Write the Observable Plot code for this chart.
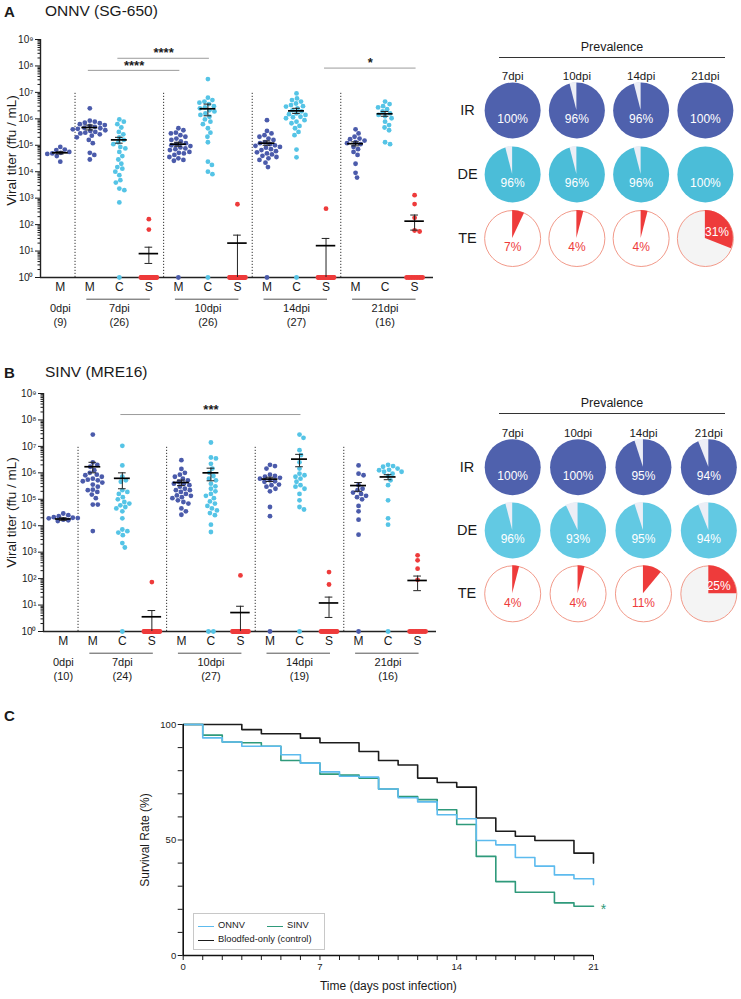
<!DOCTYPE html>
<html><head><meta charset="utf-8">
<script src="https://cdn.jsdelivr.net/npm/d3@7"></script>
<script src="https://cdn.jsdelivr.net/npm/@observablehq/plot@0.6"></script>
<style>
body{margin:0;background:#fff;}
#root{position:relative;width:741px;height:999px;overflow:hidden;font-family:"Liberation Sans",Arial,Helvetica,sans-serif;color:#1a1a1a;}
#root > *{position:absolute;}
.ttl{font-size:15.5px;white-space:nowrap;}
.lbl{font-size:15px;font-weight:bold;}
.prev{width:226px;left:499px;height:19px;line-height:19px;text-align:center;font-size:12.5px;border-bottom:1px solid #333;}
.leg{left:193px;top:913px;width:130px;height:35px;border:1px solid #c8c8c8;background:#fff;font-size:9.3px;}
.leg div{position:absolute;}
.sw{height:0;width:16px;border-top:1.6px solid;}
</style></head><body><div id="root"></div>
<script>
// ---------------- DATA ----------------
const dpiGroups = ["0dpi", "7dpi", "10dpi", "14dpi", "21dpi"];
const tissues = ["M", "C", "S"];
const nA = [9, 26, 26, 27, 16];
const nB = [10, 24, 27, 19, 16];

// Panel A: ONNV (SG-650) viral titers (ffu/mL); 0 = not detected
const A_M0 = [8.7e4, 6.9e4, 6.6e4, 5.6e4, 5.2e4, 4.9e4, 4.7e4, 3.9e4, 2.4e4];
const A_M7 = [2.5e6, 8.5e5, 7.8e5, 7.1e5, 6.8e5, 6.3e5, 5.8e5, 5.4e5, 5.0e5, 4.6e5, 4.4e5, 4.2e5, 4.0e5, 3.7e5, 3.5e5, 3.2e5, 3.0e5, 2.8e5, 2.6e5, 2.3e5, 2.0e5, 1.6e5, 1.2e5, 5.2e4, 4.3e4, 2.9e4];
const A_C7 = [9.5e5, 7.8e5, 6.3e5, 4.7e5, 3.2e5, 2.6e5, 2.0e5, 1.6e5, 1.3e5, 1.1e5, 8.7e4, 7.6e4, 5.6e4, 3.9e4, 2.9e4, 2.0e4, 1.5e4, 1.3e4, 1.0e4, 7.4e3, 4.8e3, 3.9e3, 2.3e3, 2.0e3, 690, 0];
const A_S7 = [160, 65, 0, 0, 0, 0, 0, 0, 0, 0, 0, 0, 0, 0, 0, 0, 0, 0, 0, 0, 0, 0, 0, 0, 0, 0];
const A_M10 = [4.4e5, 3.7e5, 3.0e5, 2.8e5, 2.4e5, 2.1e5, 1.8e5, 1.6e5, 1.4e5, 1.2e5, 1.1e5, 1.0e5, 9.3e4, 8.3e4, 7.6e4, 7.1e4, 6.6e4, 5.6e4, 5.2e4, 4.9e4, 4.3e4, 3.6e4, 3.2e4, 2.8e4, 2.6e4, 0];
const A_C10 = [3.2e7, 6.3e6, 5.1e6, 4.5e6, 4.1e6, 3.6e6, 3.0e6, 2.7e6, 2.5e6, 2.1e6, 1.9e6, 1.6e6, 1.4e6, 1.2e6, 9.5e5, 7.8e5, 6.3e5, 4.4e5, 3.0e5, 2.1e5, 1.3e5, 2.4e4, 1.8e4, 1.0e4, 8.1e3, 0];
const A_S10 = [590, 0, 0, 0, 0, 0, 0, 0, 0, 0, 0, 0, 0, 0, 0, 0, 0, 0, 0, 0, 0, 0, 0, 0, 0, 0];
const A_M14 = [8.9e5, 3.5e5, 2.8e5, 2.4e5, 2.1e5, 1.8e5, 1.6e5, 1.3e5, 1.2e5, 1.1e5, 1.0e5, 9.5e4, 8.7e4, 8.1e4, 7.1e4, 6.6e4, 6.0e4, 5.4e4, 4.9e4, 4.5e4, 4.0e4, 3.6e4, 3.2e4, 2.8e4, 2.2e4, 1.5e4, 0];
const A_C14 = [9.1e6, 5.9e6, 5.1e6, 4.5e6, 3.8e6, 3.3e6, 3.0e6, 2.9e6, 2.5e6, 2.1e6, 1.9e6, 1.6e6, 1.5e6, 1.4e6, 1.2e6, 1.15e6, 1.05e6, 8.9e5, 7.8e5, 6.8e5, 5.4e5, 4.4e5, 3.2e5, 2.4e5, 6.9e4, 3.5e4, 0];
const A_S14 = [400, 0, 0, 0, 0, 0, 0, 0, 0, 0, 0, 0, 0, 0, 0, 0, 0, 0, 0, 0, 0, 0, 0, 0, 0, 0, 0];
const A_M21 = [4.0e5, 2.8e5, 2.1e5, 1.8e5, 1.7e5, 1.5e5, 1.3e5, 1.2e5, 1.1e5, 8.7e4, 7.1e4, 5.6e4, 4.3e4, 2.0e4, 9.1e3, 6.0e3];
const A_C21 = [4.5e6, 3.6e6, 3.0e6, 2.7e6, 2.3e6, 1.9e6, 1.6e6, 1.4e6, 1.25e6, 1.05e6, 7.8e5, 5.8e5, 4.7e5, 3.7e5, 1.3e5, 1.1e5];
const A_S21 = [1300, 600, 180, 60, 55, 0, 0, 0, 0, 0, 0, 0, 0, 0, 0, 0];
// mean and SEM bounds per column (M0, M7, C7, S7, M10, C10, S10, M14, C14, S14, M21, C21, S21)
const A_mean = [5.2e4, 4.7e5, 1.6e5, 8, 1.1e5, 2.4e6, 20, 1.2e5, 2.0e6, 16, 1.15e5, 1.55e6, 135];
const A_semLo = [4.7e4, 3.8e5, 1.2e5, 3.4, 9.2e4, 1.3e6, 1, 1.0e5, 1.6e6, 1, 9.5e4, 1.25e6, 62];
const A_semHi = [5.7e4, 5.8e5, 2.0e5, 14, 1.3e5, 3.6e6, 40, 1.45e5, 2.5e6, 30, 1.35e5, 1.9e6, 230];
const A_sig = [
  {from: "7dpi M", to: "10dpi M", level: 6.8e7, label: "****"},
  {from: "7dpi C", to: "10dpi C", level: 1.95e8, label: "****"},
  {from: "14dpi S", to: "21dpi S", level: 8.3e7, label: "*"}
];

// Panel B: SINV (MRE16)
const B_M0 = [2.9e4, 2.5e4, 2.3e4, 2.1e4, 2.0e4, 1.95e4, 1.9e4, 1.7e4, 1.6e4, 1.5e4];
const B_M7 = [2.8e7, 2.5e6, 2.0e6, 1.7e6, 1.25e6, 1.0e6, 8.5e5, 8.1e5, 7.1e5, 6.0e5, 5.5e5, 5.2e5, 4.8e5, 4.3e5, 3.6e5, 3.0e5, 2.3e5, 2.2e5, 1.9e5, 1.5e5, 1.1e5, 6.3e4, 6.3e4, 6.3e3];
const B_C7 = [1.05e7, 1.9e6, 7.1e5, 5.2e5, 4.6e5, 2.2e5, 1.9e5, 1.6e5, 1.2e5, 1.0e5, 7.9e4, 6.9e4, 5.9e4, 5.1e4, 4.5e4, 3.5e4, 1.9e4, 7.2e3, 6.2e3, 5.5e3, 4.4e3, 2.2e3, 1.5e3, 0];
const B_S7 = [74, 0, 0, 0, 0, 0, 0, 0, 0, 0, 0, 0, 0, 0, 0, 0, 0, 0, 0, 0, 0, 0, 0, 0];
const B_M10 = [3.0e6, 1.4e6, 1.0e6, 8.5e5, 7.1e5, 6.0e5, 5.2e5, 4.6e5, 3.9e5, 3.9e5, 3.4e5, 3.0e5, 2.5e5, 2.2e5, 2.2e5, 1.9e5, 1.6e5, 1.4e5, 1.35e5, 1.2e5, 1.1e5, 9.1e4, 7.9e4, 6.9e4, 4.5e4, 3.5e4, 2.6e4];
const B_C10 = [1.4e7, 3.8e6, 3.5e6, 2.2e6, 1.45e6, 1.0e6, 7.6e5, 6.0e5, 5.2e5, 3.9e5, 3.1e5, 2.5e5, 2.0e5, 1.6e5, 1.35e5, 1.1e5, 8.3e4, 6.9e4, 5.6e4, 4.5e4, 3.8e4, 3.0e4, 2.5e4, 1.1e4, 5.8e3, 0, 0];
const B_S10 = [132, 0, 0, 0, 0, 0, 0, 0, 0, 0, 0, 0, 0, 0, 0, 0, 0, 0, 0, 0, 0, 0, 0, 0, 0, 0, 0];
const B_M14 = [2.0e6, 1.8e6, 1.45e6, 8.5e5, 7.6e5, 7.1e5, 6.5e5, 6.0e5, 5.2e5, 4.8e5, 4.6e5, 3.6e5, 3.4e5, 3.0e5, 2.5e5, 2.0e5, 5.1e4, 2.3e4, 0];
const B_C14 = [2.8e7, 2.1e7, 7.2e6, 4.7e6, 2.5e6, 1.45e6, 9.3e5, 8.1e5, 7.1e5, 6.0e5, 4.6e5, 3.4e5, 3.0e5, 2.5e5, 1.6e5, 9.1e4, 5.1e4, 4.1e4, 0];
const B_S14 = [177, 60, 0, 0, 0, 0, 0, 0, 0, 0, 0, 0, 0, 0, 0, 0, 0, 0, 0];
const B_M21 = [1.9e6, 9.3e5, 8.1e5, 3.4e5, 2.5e5, 2.2e5, 1.8e5, 1.6e5, 1.35e5, 1.2e5, 1.0e5, 5.6e4, 3.5e4, 1.7e4, 4.6e3, 0];
const B_C21 = [2.0e6, 1.8e6, 1.7e6, 1.45e6, 1.3e6, 1.25e6, 1.1e6, 1.1e6, 9.3e5, 7.6e5, 5.2e5, 3.4e5, 9.1e4, 1.9e4, 1.1e4, 0];
const B_S21 = [760, 490, 237, 90, 0, 0, 0, 0, 0, 0, 0, 0, 0, 0, 0, 0];
const B_mean = [1.8e4, 1.7e6, 6.2e5, 3.6, 4.3e5, 1.0e6, 5.2, 5.8e5, 3.3e6, 12, 3.3e5, 7.0e5, 85];
const B_semLo = [1.6e4, 1.0e6, 2.5e5, 1, 3.3e5, 5.0e5, 1, 4.7e5, 1.7e6, 3.4, 2.0e5, 5.5e5, 35];
const B_semHi = [2.0e4, 2.5e6, 1.0e6, 6.2, 5.3e5, 1.5e6, 9, 6.8e5, 5.0e6, 20, 4.3e5, 8.5e5, 125];
const B_sig = [{from: "7dpi C", to: "14dpi C", level: 1.6e8, label: "***"}];

// Prevalence (%)
const prevCols = ["7dpi", "10dpi", "14dpi", "21dpi"];
const prevRows = ["IR", "DE", "TE"];
const prevA_IR = [100, 96, 96, 100];
const prevA_DE = [96, 96, 96, 100];
const prevA_TE = [7, 4, 4, 31];
const prevB_IR = [100, 100, 95, 94];
const prevB_DE = [96, 93, 95, 94];
const prevB_TE = [4, 4, 11, 25];

// Panel C: survival (%)
const days = [0, 1, 2, 3, 4, 5, 6, 7, 8, 9, 10, 11, 12, 13, 14, 15, 16, 17, 18, 19, 20, 21];
const survONNV = [100, 94.2, 92.4, 90.6, 90.6, 86.9, 83.3, 79.5, 77.6, 77.2, 72.1, 68.3, 66.5, 60.9, 59.2, 49.8, 47.9, 42.4, 38.7, 34.9, 33.2, 30.7];
const survSINV = [100, 95.4, 92.4, 92.1, 90.6, 84.4, 83.3, 78.5, 78.1, 76.8, 72.1, 68.8, 67.5, 63.1, 56.7, 42.9, 32.0, 27.4, 27.4, 22.8, 21.3, 21.3];
const survCtrl = [100, 100, 100, 97.8, 96.0, 96.0, 94.1, 92.1, 92.1, 88.3, 84.4, 82.5, 76.8, 74.9, 72.9, 59.5, 53.8, 51.6, 49.8, 49.8, 44.3, 40.0];
const yTicksLog = [1, 1e1, 1e2, 1e3, 1e4, 1e5, 1e6, 1e7, 1e8, 1e9];
const survYTicks = [0, 50, 100];
const survYMinor = [10, 20, 30, 40, 60, 70, 80, 90];

// ---------------- STYLE ----------------
const colM = "#4B5BAB", colC = "#55C4E6", colS = "#EE3B3B";
const colIR = "#4F61AD", colTEstroke = "#F29A8A";
const plotStyle = {fontFamily: "'Liberation Sans', Arial, Helvetica, sans-serif", fontSize: "10px", background: "transparent", color: "#1a1a1a", overflow: "visible"};
const root = document.getElementById("root");
function place(el, left, top) { el.style.left = left + "px"; el.style.top = top + "px"; root.appendChild(el); return el; }
function html(tag, cls, text) { const e = document.createElement(tag); if (cls) e.className = cls; if (text != null) e.textContent = text; return e; }

const sup = n => String(n).split("").map(c => "⁰¹²³⁴⁵⁶⁷⁸⁹"[+c]).join("");
const minorLog = [];
for (let e = 0; e < 9; e++) for (let k = 2; k <= 9; k++) minorLog.push(k * 10 ** e);

// beeswarm offsets (pixel-based), returned in slot units
function swarm(vals, dec, pxPerSlot, R) {
  const D = 2 * R + 0.2;
  const pos = vals.filter(v => v > 0).map(v => ({v, py: (9 - Math.log10(v)) * dec})).sort((a, b) => a.py - b.py);
  const placed = [];
  for (const p of pos) {
    let off = 0;
    for (let s = 0; s < 400; s++) {
      const c = (s % 2 === 1 ? 1 : -1) * Math.ceil(s / 2) * 0.5;
      if (placed.every(q => (q.px - c) ** 2 + (q.py - p.py) ** 2 >= D * D)) { off = c; break; }
    }
    p.px = off; placed.push(p);
  }
  const zeros = vals.filter(v => !(v > 0));
  const w = Math.min(16, (zeros.length - 1) * D);
  zeros.forEach((v, j) => placed.push({v, px: zeros.length > 1 ? -w / 2 + w * j / (zeros.length - 1) : 0}));
  return placed.map(p => ({v: p.v, off: p.px / pxPerSlot}));
}

function scatterPanel({values, mean, lo, hi, n, sig, top, ml, mr, labelDy}) {
  const W = 440, H = 345, MT = 39, MB = 68, R = 2.4;
  const xDom = [-0.67, 12.64];
  const slots = [];
  dpiGroups.forEach((g, gi) => (gi === 0 ? ["M"] : tissues).forEach(t => slots.push({group: g, gi, tissue: t, key: g + " " + t, i: slots.length})));
  const dec = (H - MT - MB) / 9;
  const pxPerSlot = (W - ml - mr) / (xDom[1] - xDom[0]);
  const points = [];
  slots.forEach((s, si) => swarm(values[si], dec, pxPerSlot, R).forEach(p => points.push({v: p.v, x: si + p.off, tissue: s.tissue})));
  const stats = slots.map((s, si) => ({i: si, tissue: s.tissue, mean: mean[si], lo: lo[si], hi: hi[si]}));
  const groupsInfo = dpiGroups.map((g, gi) => {
    const ss = slots.filter(s => s.gi === gi);
    return {g, n: n[gi], first: ss[0].i, last: ss[ss.length - 1].i, mid: ss[Math.floor(ss.length / 2)].i};
  });
  const seps = groupsInfo.slice(1).map(d => d.first - 0.5);
  const idx = k => slots.find(s => s.key === k).i;
  const sigRows = sig.map(d => ({x1: idx(d.from) - 0.05, x2: idx(d.to) + 0.05, level: d.level, label: d.label}));
  const hw = d => d.tissue === "S" ? 0.33 : 0.27;
  const yv = d => Math.max(d.v, 1);
  const plot = Plot.plot({
    width: W, height: H, marginTop: MT, marginBottom: MB, marginLeft: ml, marginRight: mr,
    x: {domain: xDom, axis: null},
    y: {type: "log", domain: [1, 1e9], axis: null},
    style: plotStyle,
    marks: [
      Plot.ruleX(seps, {y1: 1, y2: 1e7, stroke: "#333", strokeWidth: 1, strokeDasharray: "1.2,1.8"}),
      Plot.ruleY(sigRows, {y: "level", x1: "x1", x2: "x2", stroke: "#9b9b9b", strokeWidth: 1}),
      Plot.text(sigRows, {x: d => (d.x1 + d.x2) / 2, y: "level", text: "label", dy: -5, fontSize: 13, fontWeight: "bold"}),
      Plot.ruleY([1], {stroke: "#222", strokeWidth: 1.4}),
      Plot.ruleX([xDom[0]], {y1: 1, y2: 1e9, stroke: "#222", strokeWidth: 1.4}),
      Plot.dot(points.filter(p => p.tissue === "M"), {x: "x", y: yv, r: R, fill: colM}),
      Plot.dot(points.filter(p => p.tissue === "C"), {x: "x", y: yv, r: R, fill: colC}),
      Plot.dot(points.filter(p => p.tissue === "S"), {x: "x", y: yv, r: R, fill: colS}),
      Plot.ruleX(stats, {x: "i", y1: "lo", y2: "hi", stroke: "#222", strokeWidth: 1}),
      Plot.ruleY(stats, {y: "hi", x1: d => d.i - 0.13, x2: d => d.i + 0.13, stroke: "#222", strokeWidth: 1}),
      Plot.ruleY(stats.filter(d => d.lo > 1), {y: "lo", x1: d => d.i - 0.13, x2: d => d.i + 0.13, stroke: "#222", strokeWidth: 1}),
      Plot.ruleY(stats, {y: "mean", x1: d => d.i - hw(d), x2: d => d.i + hw(d), stroke: "#000", strokeWidth: 1.7}),
      Plot.axisY({ticks: yTicksLog, tickFormat: d => "10" + sup(Math.round(Math.log10(d))), tickSize: 5, tickPadding: 2, fontSize: 10, label: null}),
      Plot.axisY({ticks: minorLog, tickSize: 2.5, tickFormat: () => "", label: null}),
      Plot.text(slots, {x: "i", text: "tissue", frameAnchor: "bottom", dy: 13.5, fontSize: 12}),
      Plot.ruleY(groupsInfo.filter(d => d.last > d.first), {x1: d => d.first - 0.1, x2: d => d.last + 0.05, y: () => 1, dy: 21.7, stroke: "#555", strokeWidth: 1}),
      Plot.text(groupsInfo, {x: "mid", text: "g", frameAnchor: "bottom", dy: 34.4, fontSize: 11}),
      Plot.text(groupsInfo, {x: "mid", text: d => `(${d.n})`, frameAnchor: "bottom", dy: 48.4, fontSize: 11}),
      Plot.text(["Viral titer (ffu / mL)"], {text: d => d, frameAnchor: "left", textAnchor: "middle", rotate: -90, dx: -(ml - 11), dy: labelDy, fontSize: 13.5})
    ]
  });
  place(plot, 0, top);
}

function piePanel({ir, de, te, top, ml, mr, mt, h, deFill, prevTop}) {
  const vals = [ir, de, te];
  const data = [];
  prevRows.forEach((row, ri) => prevCols.forEach((col, ci) => data.push({row, col, p: vals[ri][ci]})));
  const R = 28;
  const plot = Plot.plot({
    width: 301, height: h, marginLeft: ml, marginRight: mr, marginTop: mt, marginBottom: 10,
    x: {type: "band", domain: prevCols, padding: 0, round: false, axis: null},
    y: {type: "band", domain: prevRows, padding: 0, round: false, axis: null},
    style: plotStyle,
    marks: [
      Plot.dot(data.filter(d => d.row === "IR"), {x: "col", y: "row", r: R, fill: colIR}),
      Plot.dot(data.filter(d => d.row === "DE"), {x: "col", y: "row", r: R, fill: deFill}),
      Plot.dot(data.filter(d => d.row === "TE" && d.p <= 20), {x: "col", y: "row", r: R, fill: "#FFFFFF", stroke: colTEstroke, strokeWidth: 1}),
      Plot.dot(data.filter(d => d.row === "TE" && d.p > 20), {x: "col", y: "row", r: R, fill: "#F4F4F4", stroke: colTEstroke, strokeWidth: 1}),
      Plot.text(data.filter(d => d.row !== "TE"), {x: "col", y: "row", text: d => d.p + "%", dy: 9, fill: "#FFFFFF", fontSize: 12}),
      Plot.text(data.filter(d => d.row === "TE" && d.p <= 20), {x: "col", y: "row", text: d => d.p + "%", dy: 9, fill: colS, fontSize: 12}),
      Plot.text(prevCols, {x: d => d, text: d => d, frameAnchor: "top", dy: -7, fontSize: 11.5}),
      Plot.text(prevRows, {y: d => d, text: d => d, frameAnchor: "left", textAnchor: "middle", dx: -13, fontSize: 14.5})
    ]
  });
  const sx = plot.scale("x"), sy = plot.scale("y");
  const arc = d3.arc().innerRadius(0).outerRadius(R);
  const g = d3.select(plot).append("g");
  for (const d of data) {
    const cx = sx.apply(d.col) + sx.bandwidth / 2, cy = sy.apply(d.row) + sy.bandwidth / 2;
    const a = 2 * Math.PI * d.p / 100;
    if (d.row === "TE") {
      if (d.p > 0) g.append("path").attr("d", arc({startAngle: 0, endAngle: a})).attr("fill", colS).attr("transform", `translate(${cx},${cy})`);
      if (d.p > 20) {
        const [tx, ty] = arc.centroid({startAngle: 0, endAngle: a});
        g.append("text").attr("x", cx + tx * 1.05).attr("y", cy + ty * 0.8).attr("text-anchor", "middle").attr("dy", "0.35em")
          .attr("fill", "#fff").attr("font-size", 12).text(d.p + "%");
      }
    } else if (d.p < 100) {
      g.append("path").attr("d", arc({startAngle: a, endAngle: 2 * Math.PI})).attr("fill", "#ECEEF6").attr("transform", `translate(${cx},${cy})`);
    }
  }
  place(plot, 440, top);
  place(html("div", "prev", "Prevalence"), 499, prevTop);
}

function survivalPanel() {
  const mk = arr => days.map((d, i) => ({day: d, s: arr[i]}));
  const ctrl = mk(survCtrl), sinv = mk(survSINV), onnv = mk(survONNV);
  const plot = Plot.plot({
    width: 741, height: 299, marginLeft: 182.7, marginRight: 148, marginTop: 24, marginBottom: 44,
    x: {domain: [0, 21], axis: null},
    y: {domain: [0, 100], axis: null},
    style: plotStyle,
    marks: [
      Plot.axisY({ticks: survYTicks, tickSize: 5, tickPadding: 2, fontSize: 9.5, label: null}),
      Plot.axisY({ticks: survYMinor, tickSize: 5, tickFormat: () => "", label: null}),
      Plot.axisX({ticks: days, tickSize: 5, tickPadding: 3, tickFormat: d => d % 7 === 0 ? String(d) : "", fontSize: 9.5, label: null}),
      Plot.line(ctrl, {x: "day", y: "s", curve: "step-after", stroke: "#1c1c1c", strokeWidth: 1.6}),
      Plot.line(sinv, {x: "day", y: "s", curve: "step-after", stroke: "#2F9A7B", strokeWidth: 1.6}),
      Plot.line(onnv, {x: "day", y: "s", curve: "step-after", stroke: "#5DBBEE", strokeWidth: 1.6}),
      Plot.ruleX([0], {stroke: "#111", strokeWidth: 1.6}),
      Plot.ruleY([0], {stroke: "#111", strokeWidth: 1.6}),
      Plot.text(sinv.slice(-1), {x: "day", y: "s", text: () => "*", dx: 10, dy: 3, fill: "#2F9A7B", fontSize: 14}),
      Plot.text(["Survival Rate (%)"], {text: d => d, frameAnchor: "left", textAnchor: "middle", rotate: -90, dx: -38, fontSize: 12}),
      Plot.text(["Time (days post infection)"], {text: d => d, frameAnchor: "bottom", textAnchor: "middle", dy: 34, fontSize: 12})
    ]
  });
  place(plot, 0, 700);
  const leg = place(html("div", "leg"), 193, 913);
  const items = [
    {name: "ONNV", color: "#5DBBEE", x: 4, y: 12},
    {name: "SINV", color: "#2F9A7B", x: 73, y: 12},
    {name: "Bloodfed-only (control)", color: "#1c1c1c", x: 4, y: 26}
  ];
  for (const it of items) {
    const sw = html("div", "sw"); sw.style.left = it.x + "px"; sw.style.top = it.y + "px"; sw.style.borderTopColor = it.color; leg.appendChild(sw);
    const t = html("div", null, it.name); t.style.left = (it.x + 20) + "px"; t.style.top = (it.y - 6) + "px"; t.style.lineHeight = "11px"; leg.appendChild(t);
  }
}

// ---------------- BUILD ----------------
scatterPanel({values: [A_M0, A_M7, A_C7, A_S7, A_M10, A_C10, A_S10, A_M14, A_C14, A_S14, A_M21, A_C21, A_S21],
  mean: A_mean, lo: A_semLo, hi: A_semHi, n: nA, sig: A_sig, top: 0, ml: 40, mr: 7, labelDy: -8});
scatterPanel({values: [B_M0, B_M7, B_C7, B_S7, B_M10, B_C10, B_S10, B_M14, B_C14, B_S14, B_M21, B_C21, B_S21],
  mean: B_mean, lo: B_semLo, hi: B_semHi, n: nB, sig: B_sig, top: 354, ml: 43, mr: 4, labelDy: 0});
piePanel({ir: prevA_IR, de: prevA_DE, te: prevA_TE, top: 0, ml: 40, mr: 4, mt: 78, h: 280, deFill: "#4BBDD8", prevTop: 38});
piePanel({ir: prevB_IR, de: prevB_DE, te: prevB_TE, top: 354, ml: 39.5, mr: 0, mt: 81, h: 281, deFill: "#62C9E3", prevTop: 394});
survivalPanel();

place(html("div", "lbl", "A"), 4, 3);
place(html("div", "ttl", "ONNV (SG-650)"), 45, 2);
place(html("div", "lbl", "B"), 4, 364);
place(html("div", "ttl", "SINV (MRE16)"), 45, 363);
place(html("div", "lbl", "C"), 4, 707);
</script></body></html>
